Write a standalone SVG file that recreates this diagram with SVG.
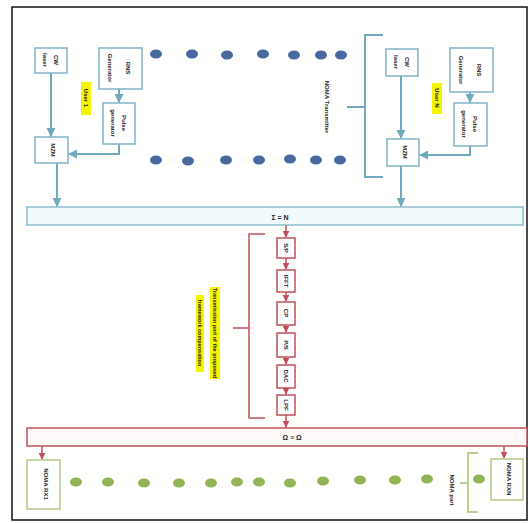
<svg xmlns="http://www.w3.org/2000/svg" width="531" height="523" viewBox="0 0 531 523">
<defs>
<marker id="ab" viewBox="0 0 10 10" refX="9" refY="5" markerWidth="4.5" markerHeight="4.5" orient="auto"><path d="M0,0 L10,5 L0,10 z" fill="#6fa8bf"/></marker>
<marker id="ar" viewBox="0 0 10 10" refX="9" refY="5" markerWidth="4.5" markerHeight="4.5" orient="auto"><path d="M0,0 L10,5 L0,10 z" fill="#c0505a"/></marker>
<style>
.bbox{fill:#ffffff;stroke:#7fb2c5;stroke-width:1.5}
.rbox{fill:#ffffff;stroke:#c0505a;stroke-width:1.5}
.gbox{fill:#ffffff;stroke:#b5c98a;stroke-width:1.5}
.bl{stroke:#6fa8bf;stroke-width:2;fill:none}
.rl{stroke:#c0505a;stroke-width:1.5;fill:none}
.gl{stroke:#a5bf72;stroke-width:1.5;fill:none}
.t{font-family:"Liberation Sans",Arial,sans-serif;font-size:6px;font-weight:bold;fill:#222;text-anchor:middle;dominant-baseline:central}
.hl{fill:#f5f500}
.bd{fill:#4a68a0}
.gd{fill:#93b454}
</style>
</defs>
<rect x="0" y="0" width="531" height="523" fill="#ffffff"/>
<rect x="12" y="7" width="515" height="513" fill="#fffffd" stroke="#111" stroke-width="1.5"/>

<g id="connectors">
<line class="bl" x1="51" y1="73" x2="51" y2="136" marker-end="url(#ab)"/>
<line class="bl" x1="119" y1="89" x2="119" y2="102" marker-end="url(#ab)"/>
<polyline class="bl" points="119,144 119,154 69,154" marker-end="url(#ab)"/>
<line class="bl" x1="57" y1="163" x2="57" y2="206" marker-end="url(#ab)"/>
<line class="bl" x1="401" y1="76" x2="401" y2="138" marker-end="url(#ab)"/>
<line class="bl" x1="470" y1="92" x2="470" y2="102" marker-end="url(#ab)"/>
<polyline class="bl" points="470,146 470,155 420,155" marker-end="url(#ab)"/>
<line class="bl" x1="401" y1="166" x2="401" y2="206" marker-end="url(#ab)"/>
<path class="bl" d="M383,35 H365 V177 H383 M365,107 H347"/>
<line class="rl" x1="286" y1="225" x2="286" y2="237" marker-end="url(#ar)"/>
<line class="rl" x1="286" y1="258" x2="286" y2="269" marker-end="url(#ar)"/>
<line class="rl" x1="286" y1="292" x2="286" y2="301" marker-end="url(#ar)"/>
<line class="rl" x1="286" y1="325" x2="286" y2="332" marker-end="url(#ar)"/>
<line class="rl" x1="286" y1="357" x2="286" y2="364" marker-end="url(#ar)"/>
<line class="rl" x1="286" y1="388" x2="286" y2="394" marker-end="url(#ar)"/>
<line class="rl" x1="286" y1="415" x2="286" y2="427" marker-end="url(#ar)"/>
<path class="rl" d="M265,234 H249 V418 H265 M249,328 H233"/>
<line class="rl" x1="42" y1="446" x2="42" y2="459" marker-end="url(#ar)"/>
<line class="rl" x1="504" y1="446" x2="504" y2="458" marker-end="url(#ar)"/>
<path class="gl" d="M478,453 H468 V512 H478 M468,483 H460"/>
</g>

<g id="dots">
<ellipse class="bd" cx="156" cy="54" rx="6" ry="4.5"/>
<ellipse class="bd" cx="192" cy="54" rx="6" ry="4.5"/>
<ellipse class="bd" cx="227" cy="55" rx="6" ry="4.5"/>
<ellipse class="bd" cx="263" cy="54" rx="6" ry="4.5"/>
<ellipse class="bd" cx="294" cy="55" rx="6" ry="4.5"/>
<ellipse class="bd" cx="321" cy="55" rx="6" ry="4.5"/>
<ellipse class="bd" cx="341" cy="55" rx="6" ry="4.5"/>
<ellipse class="bd" cx="156" cy="160" rx="6" ry="4.5"/>
<ellipse class="bd" cx="188" cy="161" rx="6" ry="4.5"/>
<ellipse class="bd" cx="226" cy="160" rx="6" ry="4.5"/>
<ellipse class="bd" cx="259" cy="160" rx="6" ry="4.5"/>
<ellipse class="bd" cx="290" cy="159" rx="6" ry="4.5"/>
<ellipse class="bd" cx="316" cy="160" rx="6" ry="4.5"/>
<ellipse class="bd" cx="340" cy="160" rx="6" ry="4.5"/>
<ellipse class="gd" cx="76" cy="482" rx="6" ry="4.5"/>
<ellipse class="gd" cx="108" cy="482" rx="6" ry="4.5"/>
<ellipse class="gd" cx="144" cy="483" rx="6" ry="4.5"/>
<ellipse class="gd" cx="179" cy="483" rx="6" ry="4.5"/>
<ellipse class="gd" cx="211" cy="483" rx="6" ry="4.5"/>
<ellipse class="gd" cx="237" cy="482" rx="6" ry="4.5"/>
<ellipse class="gd" cx="259" cy="482" rx="6" ry="4.5"/>
<ellipse class="gd" cx="290" cy="483" rx="6" ry="4.5"/>
<ellipse class="gd" cx="323" cy="481" rx="6" ry="4.5"/>
<ellipse class="gd" cx="360" cy="480" rx="6" ry="4.5"/>
<ellipse class="gd" cx="395" cy="480" rx="6" ry="4.5"/>
<ellipse class="gd" cx="427" cy="479" rx="6" ry="4.5"/>
<ellipse class="gd" cx="479" cy="479" rx="6" ry="4.5"/>
</g>

<g id="cw1"><rect class="bbox" x="35" y="48" width="32" height="25"/>
<text class="t" transform="translate(56,60) rotate(90)">CW</text>
<text class="t" transform="translate(45,60) rotate(90)">laser</text></g>
<g id="rns1"><rect class="bbox" x="99" y="48" width="43" height="41"/>
<text class="t" transform="translate(128,68) rotate(90)">RNS</text>
<text class="t" transform="translate(110,68) rotate(90)">Generator</text></g>
<g id="pulse1"><rect class="bbox" x="103" y="103" width="32" height="41"/>
<text class="t" transform="translate(124,123) rotate(90)">Pulse</text>
<text class="t" transform="translate(113,123) rotate(90)">generator</text></g>
<g id="mzm1"><rect class="bbox" x="35" y="137" width="33" height="26"/>
<text class="t" transform="translate(53,150) rotate(90)">MZM</text></g>
<g id="user1"><rect class="hl" x="81" y="82" width="10" height="33"/>
<text class="t" transform="translate(86,98) rotate(90)">User 1</text></g>

<g id="cwN"><rect class="bbox" x="386" y="49" width="32" height="27"/>
<text class="t" transform="translate(407,62) rotate(90)">CW</text>
<text class="t" transform="translate(396,62) rotate(90)">laser</text></g>
<g id="rnsN"><rect class="bbox" x="450" y="48" width="43" height="44"/>
<text class="t" transform="translate(479,70) rotate(90)">RNS</text>
<text class="t" transform="translate(461,70) rotate(90)">Generator</text></g>
<g id="pulseN"><rect class="bbox" x="454" y="103" width="33" height="43"/>
<text class="t" transform="translate(475,124) rotate(90)">Pulse</text>
<text class="t" transform="translate(464,124) rotate(90)">generator</text></g>
<g id="mzmN"><rect class="bbox" x="387" y="139" width="32" height="27"/>
<text class="t" transform="translate(405,152) rotate(90)">MZM</text></g>
<g id="userN"><rect class="hl" x="432" y="83" width="10" height="31"/>
<text class="t" transform="translate(437,98) rotate(90)">User N</text></g>

<g id="tx-label"><text class="t" transform="translate(327,107) rotate(90)">NOMA Transmitter</text></g>

<g id="bluebar"><rect x="27" y="207" width="496" height="18" fill="#f1fafc" stroke="#8cbccc" stroke-width="1.5"/>
<text class="t" x="280" y="217" style="font-size:7px">Σ = N</text></g>

<g id="b1"><rect class="rbox" x="277" y="238" width="18" height="20"/><text class="t" transform="translate(286,248) rotate(90)">S/P</text></g>
<g id="b2"><rect class="rbox" x="277" y="270" width="18" height="22"/><text class="t" transform="translate(286,281) rotate(90)">IFFT</text></g>
<g id="b3"><rect class="rbox" x="277" y="302" width="18" height="23"/><text class="t" transform="translate(286,313) rotate(90)">CP</text></g>
<g id="b4"><rect class="rbox" x="277" y="333" width="18" height="24"/><text class="t" transform="translate(286,345) rotate(90)">P/S</text></g>
<g id="b5"><rect class="rbox" x="277" y="365" width="18" height="23"/><text class="t" transform="translate(286,376) rotate(90)">DAC</text></g>
<g id="b6"><rect class="rbox" x="277" y="395" width="18" height="20"/><text class="t" transform="translate(286,405) rotate(90)">LPF</text></g>

<g id="prop-label">
<rect class="hl" x="210" y="287" width="10" height="92"/>
<rect class="hl" x="196" y="295" width="8" height="77"/>
<text class="t" transform="translate(215,333) rotate(90)" style="font-size:5.5px">Transmission part of the proposed</text>
<text class="t" transform="translate(200,333) rotate(90)" style="font-size:5.5px">framework compensation</text></g>

<g id="redbar"><rect x="27" y="428" width="500" height="18" fill="#fff9f9" stroke="#c0505a" stroke-width="1.5"/>
<text class="t" x="292" y="437" style="font-size:7px">Ω ≡ Ω</text></g>

<g id="rx1"><rect class="gbox" x="27" y="460" width="33" height="49"/><text class="t" transform="translate(46,484) rotate(90)">NOMA RX1</text></g>
<g id="rxN"><rect class="gbox" x="491" y="459" width="32" height="41"/><text class="t" transform="translate(509,479) rotate(90)">NOMA RXN</text></g>
<g id="rx-label"><text class="t" transform="translate(452,490) rotate(90)">NOMA part</text></g>
</svg>
